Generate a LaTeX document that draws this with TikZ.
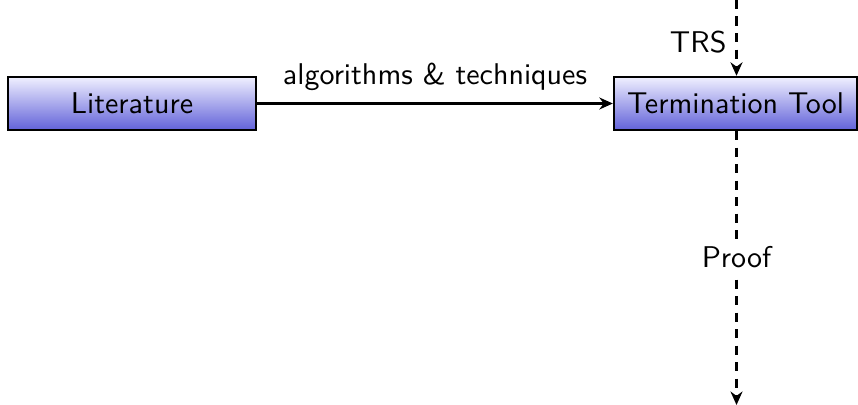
\documentclass[tikz,border=0pt]{standalone}
\usetikzlibrary{arrows.meta}
\begin{document}
\begin{tikzpicture}[x=0.3333pt,y=-0.3333pt,font=\sffamily,
  box/.style={draw,line width=0.8pt,top color=blue!6!white,bottom color=blue!55!white!85!black,
    minimum height=53*0.3333pt,inner sep=0pt},
  arr/.style={-{Stealth[length=4.5pt,width=4pt]},line width=0.7pt},
  dsh/.style={arr,dash pattern=on 3pt off 2.5pt}]
\useasboundingbox (0,0) rectangle (858,405);
\node[box,minimum width=248*0.3333pt] (lit) at (132,103.5) {Literature};
\node[box,minimum width=243*0.3333pt] (tt) at (735.5,103.5) {Termination Tool};
\coordinate (top) at (736.5,0);
\coordinate (bot) at (736.5,405);
\draw[arr] (lit) -- node[above,inner sep=4pt] {algorithms \& techniques} (tt);
\draw[dsh] (top) -- node[left,pos=0.55,inner sep=3pt] {TRS} (top|-tt.north);
\draw[dsh] (top|-tt.south) -- node[fill=white,pos=0.46,inner sep=2pt] {Proof} (bot);
\end{tikzpicture}
\end{document}
